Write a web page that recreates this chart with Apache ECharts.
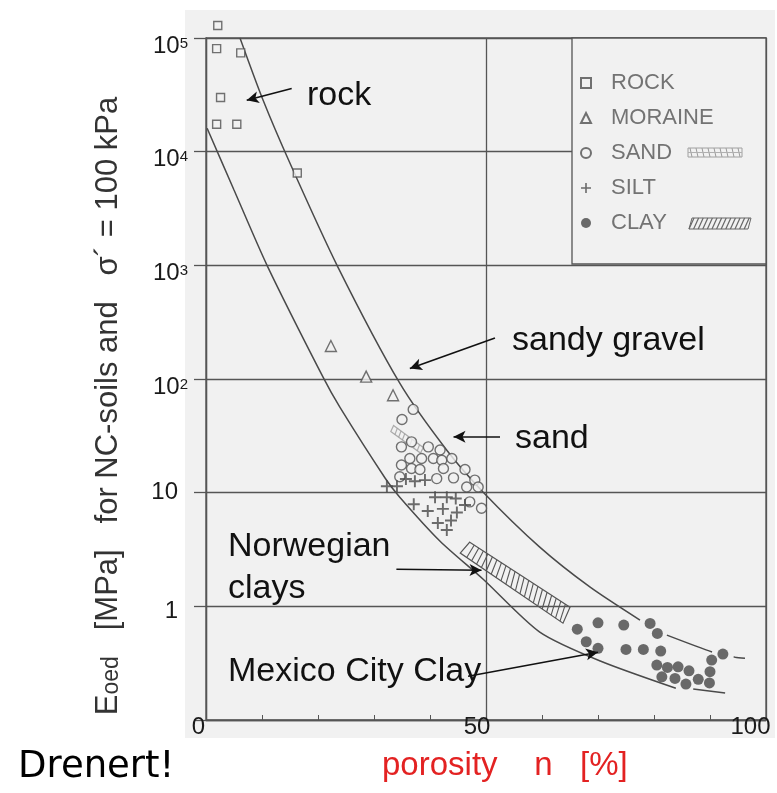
<!DOCTYPE html>
<html><head><meta charset="utf-8">
<script src="https://cdn.jsdelivr.net/npm/echarts@6/dist/echarts.min.js"></script>
<style>html,body{margin:0;padding:0;background:#fff}#c{width:777px;height:793px}</style>
</head><body><div id="c"></div>
<script>
// ---------- data (porosity n [%], Eoed [MPa]) ----------
const rockPts = [[2.1,129000],[1.9,80700],[6.2,74000],[2.6,30000],[1.9,17400],[5.5,17400],[16.3,6500]];
const morainePts = [[22.3,195],[28.6,105],[33.4,72]];
const sandPts = [[37.0,54],[35.0,44],[36.7,28],[34.9,25.3],[39.7,25.3],[41.8,23.7],[36.4,20],[38.5,20],[40.6,20],[42.1,19.3],[43.9,20],
  [34.9,17.5],[36.7,16.3],[38.2,16],[42.4,16.3],[46.25,16],[34.6,13.8],[41.2,13.3],[44.2,13.5],[48.0,12.9],[46.55,11.2],[48.6,11.2],[47.1,8.3],[49.2,7.3]];
const siltPts = [[32.3,11.4],[34.1,11.4],[35.7,13.2],[37.3,12.6],[39.1,12.9],[40.9,9.1],[43.0,9.1],[44.6,8.9],[37.1,7.9],[39.6,6.9],
  [42.3,7.2],[44.8,6.7],[46.25,7.8],[41.4,5.4],[43.75,5.7],[43.0,4.7]];
const clayPts = [[66.3,0.63],[70.0,0.716],[74.6,0.684],[79.3,0.708],[67.9,0.488],[70.0,0.427],[75.0,0.418],[78.1,0.418],[81.2,0.404],
  [80.6,0.578],[92.3,0.38],[90.3,0.337],[80.5,0.304],[82.4,0.29],[84.3,0.294],[86.25,0.271],[90.0,0.266],[81.4,0.24],[83.75,0.232],
  [85.7,0.207],[87.9,0.228],[89.9,0.212]];
const upperCurve = [[6.07,100000],[10.2,28300],[15.0,7900],[23.4,1000],[34.6,91.8],[43.0,23.6],[49.5,10.1],[59.6,3.32],[68.6,1.475],[77.5,0.757]];
const upperCurveDashed = [[82.3,0.558],[90.5,0.395],[94.5,0.357],[96.25,0.35]];
const lowerCurve = [[0.2,16070],[5,4600],[10.9,1000],[20.9,103.7],[23.9,56.5],[32.0,13.4],[34.6,9.12],[41.8,3.74],[49.5,1.73],[59.6,0.593],[70.4,0.33],[83.9,0.19]];
const lowerCurveTail = [[87.0,0.187],[92.7,0.173]];
const norwegianUpper = [[47.1,3.67],[56,1.91],[65.0,0.984]];
const norwegianLower = [[45.4,2.94],[55,1.40],[63.75,0.711]];
const sandBandUpper = [[33.5,39],[38.8,25]];
const sandBandLower = [[33.0,34.5],[38.3,22.3]];
const arrows = [
  [[15.3,35900],[7.27,28300]],
  [[51.6,229],[36.4,124]],
  [[52.5,31],[44.2,31]],
  [[34.0,2.12],[49.2,2.08]],
  [[46.8,0.243],[70.0,0.395]]
];
const xTickValues = [0,50,100];
const xTickLabels = ['0','50','100'];
const yTickValues = [0.1,1,10,100,1000,10000,100000];
const yTickBase = ['','1','10','10','10','10','10'];
const yTickExp = ['','','','2','3','4','5'];
const legendNames = ['ROCK','MORAINE','SAND','SILT','CLAY'];

// ---------- styles ----------
const BG = '#f1f1f1';
const INK = '#4a4a4a';
const FONT = '"Liberation Sans", Arial, sans-serif';
const PLUS = 'path://M4.2,0H5.8V4.2H10V5.8H5.8V10H4.2V5.8H0V4.2H4.2Z';
const openStyle = {color: BG, borderColor: '#505050', borderWidth: 1.4};

function interpPoly(P, t) {
  const n = P.length - 1; const f = t * n;
  const i = Math.min(Math.floor(f), n - 1); const r = f - i;
  return [P[i][0] + (P[i+1][0] - P[i][0]) * r, P[i][1] + (P[i+1][1] - P[i][1]) * r];
}
function bandSeries(name, upper, lower, color, opacity, nHatch) {
  return {
    type: 'custom', name: name, coordinateSystem: 'cartesian2d', silent: true, z: 3,
    data: [[50, 1]],
    renderItem: function (params, api) {
      const U = upper.map(p => api.coord(p));
      const L = lower.map(p => api.coord(p));
      const children = [{type: 'polygon', shape: {points: U.concat(L.slice().reverse())},
        style: {fill: 'none', stroke: color, lineWidth: 1.2, opacity: opacity}}];
      for (let i = 1; i < nHatch; i++) {
        const t = i / nHatch;
        const a = interpPoly(U, t), b = interpPoly(L, Math.min(1, t + 0.015));
        children.push({type: 'line', shape: {x1: a[0], y1: a[1], x2: b[0], y2: b[1]},
          style: {stroke: color, lineWidth: 1.1, opacity: opacity}});
      }
      return {type: 'group', children: children};
    }
  };
}
function lineSeries(data, dash) {
  return {type: 'line', data: data, showSymbol: false, symbol: 'none', smooth: 0.25, silent: true, z: 2,
    lineStyle: {color: INK, width: 1.5, type: dash || 'solid'}};
}

// swatches in the legend box (decoration)
const swatch = [];
for (let i = 0; i < 9; i++) {
  swatch.push({type: 'line', z: 5, shape: {x1: 690 + i * 6, y1: 148, x2: 692 + i * 6, y2: 157}, style: {stroke: '#9a9a9a', lineWidth: 1}});
}
swatch.push({type: 'rect', z: 5, shape: {x: 688, y: 148, width: 54, height: 9}, style: {fill: 'none', stroke: '#a0a0a0', lineWidth: 1}});
swatch.push({type: 'line', z: 5, shape: {x1: 688, y1: 152.5, x2: 742, y2: 152.5}, style: {stroke: '#b0b0b0', lineWidth: 1}});
swatch.push({type: 'polygon', z: 5, shape: {points: [[689, 229], [748, 229], [751, 218], [692, 218]]}, style: {fill: 'none', stroke: '#666', lineWidth: 1}});
for (let i = 0; i < 13; i++) {
  swatch.push({type: 'line', z: 5, shape: {x1: 689 + i * 4.6, y1: 229, x2: 694 + i * 4.6, y2: 218}, style: {stroke: '#666', lineWidth: 1.2}});
}

const chart = echarts.init(document.getElementById('c'), null, {renderer: 'canvas'});
chart.setOption({
  animation: false,
  backgroundColor: '#fff',
  grid: {left: 206, top: 38, width: 560, height: 682, show: true, borderColor: '#555', borderWidth: 1.3,
    backgroundColor: 'transparent', containLabel: false, outerBoundsMode: 'none'},
  legend: {
    data: legendNames, orient: 'vertical', left: 580, top: 66, padding: 0, itemGap: 1,
    itemWidth: 10, itemHeight: 10, selectedMode: false, z: 6,
    textStyle: {fontSize: 22, color: '#737373', fontFamily: FONT, lineHeight: 34, padding: [0, 0, 0, 15]}
  },
  xAxis: {
    type: 'value', min: 0, max: 100, interval: 50,
    axisLine: {show: true, lineStyle: {color: '#555', width: 1.3}},
    axisTick: {show: true, inside: true, length: 5, lineStyle: {color: '#555'}},
    minorTick: {show: true, splitNumber: 5, length: 5, lineStyle: {color: '#555', width: 1}},
    splitLine: {show: true, lineStyle: {color: '#555', width: 1.3}},
    axisLabel: {
      margin: -5, fontFamily: FONT, fontSize: 24, color: '#1a1a1a',
      formatter: function (v) { const i = xTickValues.indexOf(v); return i < 0 ? '' : '{x' + i + '|' + xTickLabels[i] + '}'; },
      rich: {x0: {fontSize: 24, fontFamily: FONT, color: '#1a1a1a', padding: [0, 15, 0, 0]},
             x1: {fontSize: 24, fontFamily: FONT, color: '#1a1a1a', padding: [0, 18, 0, 0]},
             x2: {fontSize: 24, fontFamily: FONT, color: '#1a1a1a', padding: [0, 31, 0, 0]}}
    }
  },
  yAxis: {
    type: 'log', logBase: 10, min: 0.1, max: 100000,
    axisLine: {show: true, lineStyle: {color: '#555', width: 1.3}},
    axisTick: {show: true, length: 12, lineStyle: {color: '#555', width: 1.3}},
    splitLine: {show: true, lineStyle: {color: '#555', width: 1.3}},
    axisLabel: {
      margin: 18, align: 'right', fontFamily: FONT, fontSize: 24, color: '#1a1a1a',
      formatter: function (v) {
        const e = Math.round(Math.log10(v)); const i = yTickValues.findIndex(t => Math.round(Math.log10(t)) === e);
        if (i < 0 || !yTickBase[i]) return '';
        if (!yTickExp[i]) return (yTickBase[i] === '1' ? '{p1|' : '{p|') + yTickBase[i] + '}';
        return '{b|' + yTickBase[i] + '}{s|' + yTickExp[i] + '}';
      },
      rich: {
        p: {fontSize: 24, fontFamily: FONT, color: '#1a1a1a', padding: [0, 10, 0, 0]},
        p1: {fontSize: 24, fontFamily: FONT, color: '#1a1a1a', padding: [10, 10, 0, 0]},
        b: {fontSize: 24, fontFamily: FONT, color: '#1a1a1a', padding: [16, 0, 0, 0]},
        s: {fontSize: 15, fontFamily: FONT, color: '#1a1a1a', padding: [18, 0, 0, 0], verticalAlign: 'top'}
      }
    }
  },
  series: [
    lineSeries(upperCurve),
    Object.assign(lineSeries(upperCurveDashed, [48, 22]), {smooth: 0.2}),
    Object.assign(lineSeries(lowerCurve), {
      markLine: {
        silent: true, symbol: ['none', 'arrow'], symbolSize: [9, 12], label: {show: false},
        lineStyle: {color: '#111', width: 1.6, type: 'solid'},
        data: arrows.map(a => [{coord: a[0]}, {coord: a[1]}])
      }
    }),
    lineSeries(lowerCurveTail),
    bandSeries('Norwegian band', norwegianUpper, norwegianLower, '#555', 1, 22),
    bandSeries('sand band', sandBandUpper, sandBandLower, '#9a9a9a', 0.8, 8),
    {name: 'ROCK', type: 'scatter', data: rockPts, symbol: 'rect', symbolSize: 8, itemStyle: openStyle, clip: false, z: 4},
    {name: 'MORAINE', type: 'scatter', data: morainePts, symbol: 'triangle', symbolSize: 11, itemStyle: openStyle, z: 4},
    {name: 'SAND', type: 'scatter', data: sandPts, symbol: 'circle', symbolSize: 10, itemStyle: openStyle, z: 4},
    {name: 'SILT', type: 'scatter', data: siltPts, symbol: PLUS, symbolSize: 12, itemStyle: {color: '#4a4a4a'}, z: 4},
    {name: 'CLAY', type: 'scatter', data: clayPts, symbol: 'circle', symbolSize: 11, itemStyle: {color: '#474747'}, z: 4}
  ],
  graphic: [
    {type: 'rect', z: -10, silent: true, shape: {x: 185, y: 10, width: 590, height: 728}, style: {fill: BG}},
    {type: 'rect', z: 1, silent: true, shape: {x: 572, y: 38, width: 194, height: 226}, style: {fill: BG, stroke: '#555', lineWidth: 1.3}}
  ].concat(swatch).concat([
    {type: 'text', z: 10, x: 307, y: 95.5, style: {text: 'rock', font: '34px ' + FONT, fill: '#111', verticalAlign: 'middle'}},
    {type: 'text', z: 10, x: 512, y: 341, style: {text: 'sandy gravel', font: '34px ' + FONT, fill: '#111', verticalAlign: 'middle'}},
    {type: 'text', z: 10, x: 515, y: 439, style: {text: 'sand', font: '34px ' + FONT, fill: '#111', verticalAlign: 'middle'}},
    {type: 'text', z: 10, x: 228, y: 547, style: {text: 'Norwegian', font: '34px ' + FONT, fill: '#111', verticalAlign: 'middle'}},
    {type: 'text', z: 10, x: 228, y: 589, style: {text: 'clays', font: '34px ' + FONT, fill: '#111', verticalAlign: 'middle'}},
    {type: 'text', z: 10, x: 228, y: 672, style: {text: 'Mexico City Clay', font: '34px ' + FONT, fill: '#111', verticalAlign: 'middle'}},
    {type: 'text', z: 10, x: 18, y: 767, style: {text: 'Drenert!', font: '37px "DejaVu Sans", sans-serif', fill: '#000', verticalAlign: 'middle'}},
    {type: 'text', z: 10, x: 382, y: 766, style: {text: 'porosity    n   [%]', font: '33px ' + FONT, fill: '#e32222', verticalAlign: 'middle'}},
    {type: 'text', z: 10, x: 108, y: 406, rotation: Math.PI / 2,
      style: {text: '{e|E}{o|oed}{t|   [MPa]   for NC-soils and   σ´ = 100 kPa}', align: 'center', verticalAlign: 'middle',
        rich: {e: {fontSize: 31, fontFamily: FONT, fill: '#333', color: '#333'},
               o: {fontSize: 23, fontFamily: FONT, fill: '#333', color: '#333', verticalAlign: 'bottom'},
               t: {fontSize: 31, fontFamily: FONT, fill: '#333', color: '#333'}}}}
  ])
});
</script></body></html>
